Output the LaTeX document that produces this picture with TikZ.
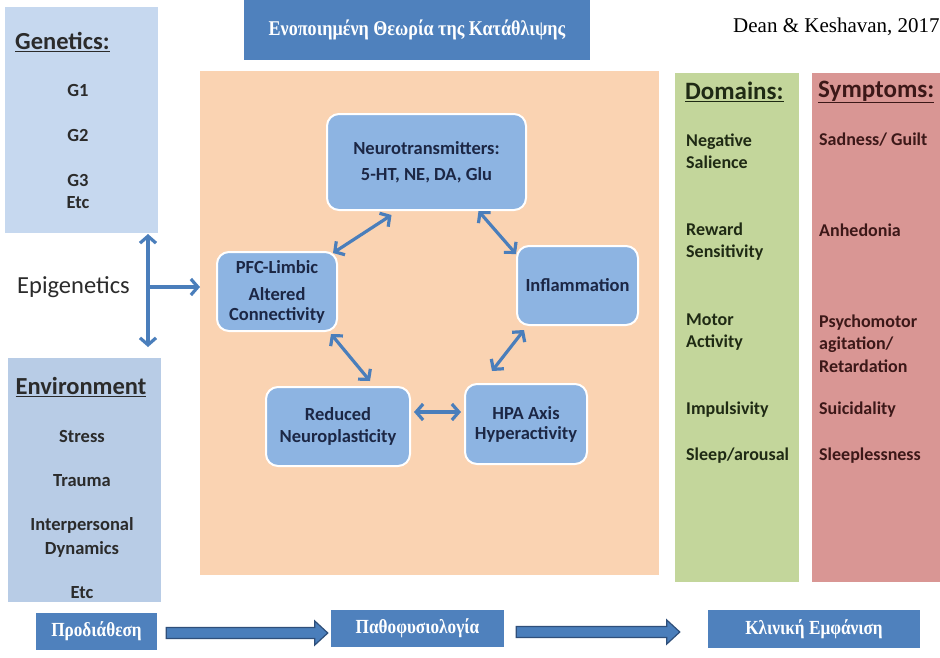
\documentclass[tikz,border=0pt]{standalone}
\usepackage{fontspec}
\setmainfont{Carlito}
\newfontfamily\grk{Liberation Serif}
\usetikzlibrary{arrows.meta,calc}
\definecolor{hdrblue}{HTML}{4F81BD}
\definecolor{genfill}{HTML}{C6D8EF}
\definecolor{envfill}{HTML}{B8CCE6}
\definecolor{corefill}{HTML}{FAD3B2}
\definecolor{boxfill}{HTML}{8DB4E2}
\definecolor{domfill}{HTML}{C3D69B}
\definecolor{symfill}{HTML}{D99694}
\definecolor{navytxt}{HTML}{1C2745}
\definecolor{greytxt}{HTML}{2B2B2B}
\definecolor{domtxt}{HTML}{1F2A14}
\definecolor{symtxt}{HTML}{3C1818}
\definecolor{arrowblue}{HTML}{4A7EBB}
\definecolor{fatedge}{HTML}{2F4F7A}
\tikzset{
  stagebox/.style={fill=hdrblue, text=white, inner sep=0pt,
    font=\grk\bfseries\fontsize{20}{22}\selectfont},
  procbox/.style={rounded corners=12pt, fill=boxfill, draw=white, line width=2pt, inner sep=0pt,
    align=center, text=navytxt, font=\bfseries\fontsize{18.5}{26}\selectfont},
  gentext/.style={text=greytxt, font=\bfseries\fontsize{18.5}{22}\selectfont, inner sep=0pt},
  headtext/.style={text=greytxt, font=\bfseries\fontsize{24.5}{26}\selectfont, inner sep=0pt},
  domtext/.style={text=domtxt, anchor=west, align=left, font=\bfseries\fontsize{18}{22}\selectfont, inner sep=0pt},
  symtext/.style={text=symtxt, anchor=west, align=left, font=\bfseries\fontsize{18}{22.5}\selectfont, inner sep=0pt},
  link/.style={draw=arrowblue, line width=3.2pt,
    {Straight Barb[length=7pt 0 0,width=16pt 0 0,line width=3.2pt]}-{Straight Barb[length=7pt 0 0,width=16pt 0 0,line width=3.2pt]}},
  onelink/.style={draw=arrowblue, line width=3.2pt,
    -{Straight Barb[length=7pt 0 0,width=16pt 0 0,line width=3.2pt]}},
  fatarrow/.style={fill=arrowblue, draw=fatedge, line width=1.2pt, line join=miter},
}
\begin{document}
\begin{tikzpicture}[x=1pt,y=-1pt]
\useasboundingbox[fill=white] (0,0) rectangle (940,657);

% left column: genetics and environment
\node[fill=genfill, minimum width=153pt, minimum height=226pt, inner sep=0pt] (gen) at (81.5,120) {};
\node[headtext, anchor=west] (genh) at (15,42) {\underline{Genetics:}};
\node[gentext] (g1) at (78,90) {G1};
\node[gentext] (g2) at (78,135) {G2};
\node[gentext] (g3) at (78,180) {G3};
\node[gentext] (g4) at (78,203) {Etc};

\node[fill=envfill, minimum width=153pt, minimum height=244pt, inner sep=0pt] (env) at (84.5,480) {};
\node[headtext] (envh) at (81,387) {\underline{Environment}};
\node[gentext] (e1) at (82,436) {Stress};
\node[gentext] (e2) at (82,481) {Trauma};
\node[gentext] (e3) at (82,525) {Interpersonal};
\node[gentext] (e4) at (82,549) {Dynamics};
\node[gentext] (e5) at (82,593) {Etc};

\node[anchor=west, text=greytxt, font=\fontsize{24.5}{26}\selectfont, inner sep=0pt] (epi) at (17,287) {Epigenetics};

% pathophysiology panel
\node[fill=corefill, minimum width=459pt, minimum height=504pt, inner sep=0pt] (core) at (429.5,323) {};
\node[procbox, minimum width=199pt, minimum height=96pt] (nt) at (426.5,162) {Neurotransmitters:\\5-HT, NE, DA, Glu};
\node[procbox, minimum width=120pt, minimum height=79pt, font=\bfseries\fontsize{18.5}{20}\selectfont] (pfc) at (277,291.5) {PFC-Limbic\\[7pt]Altered\\Connectivity};
\node[procbox, minimum width=121pt, minimum height=79pt] (inf) at (577.5,285.5) {Inflammation};
\node[procbox, minimum width=144pt, minimum height=79pt, font=\bfseries\fontsize{18.5}{22}\selectfont] (red) at (338,426.5) {Reduced\\Neuroplasticity};
\node[procbox, minimum width=122pt, minimum height=80pt, font=\bfseries\fontsize{18.5}{20}\selectfont] (hpa) at (526,424) {HPA Axis\\Hyperactivity};

\draw[link] ([xshift=-35pt,yshift=-4pt]nt.south) -- ([xshift=-5pt,yshift=-2pt]pfc.north east);
\draw[link] ([xshift=52pt,yshift=0pt]nt.south) -- ([xshift=0pt,yshift=-9pt]inf.north west);
\draw[link] ([xshift=-7pt,yshift=-2pt]pfc.south east) -- ([xshift=32pt,yshift=5pt]red.north);
\draw[link] ([xshift=8pt,yshift=-4pt]inf.south west) -- ([xshift=-34pt,yshift=12pt]hpa.north);
\draw[link] ([xshift=3pt,yshift=14.5pt]red.east) -- ([xshift=-3pt,yshift=12pt]hpa.west);

% epigenetic influences
\coordinate (vtop) at (148,234);
\coordinate (vbot) at (148,347);
\coordinate (hsrc) at (150,287);
\draw[link] (vtop) -- (vbot);
\draw[onelink] (hsrc) -- ([xshift=-16pt]pfc.west |- hsrc);

% clinical columns
\node[fill=domfill, minimum width=124pt, minimum height=509pt, inner sep=0pt] (dom) at (737,327.5) {};
\node[fill=symfill, minimum width=128pt, minimum height=509pt, inner sep=0pt] (sym) at (876,327.5) {};
\node[domtext, font=\bfseries\fontsize{25}{26}\selectfont] (domh) at (685,92) {\underline{Domains:}};
\node[domtext] (d1) at (686,151) {Negative\\Salience};
\node[domtext] (d2) at (686,241.5) {Reward\\Sensitivity};
\node[domtext] (d3) at (686,332) {Motor\\Activity};
\node[domtext] (d4) at (686,410) {Impulsivity};
\node[domtext] (d5) at (686,456) {Sleep/arousal};
\node[symtext, font=\bfseries\fontsize{25}{26}\selectfont] (symh) at (818,92) {\underline{Symptoms:}};
\node[symtext] (s1) at (819,140) {Sadness/ Guilt};
\node[symtext] (s2) at (819,230) {Anhedonia};
\node[symtext] (s3) at (819,343.5) {Psychomotor\\agitation/\\Retardation};
\node[symtext] (s4) at (819,410) {Suicidality};
\node[symtext] (s5) at (819,456) {Sleeplessness};

% title and source
\node[fill=hdrblue, minimum width=346pt, minimum height=60pt, inner sep=0pt, text=white,
  font=\grk\bfseries\fontsize{21}{23}\selectfont] (title) at (417,30)
  {\scalebox{0.86}[1]{Ενοποιημένη Θεωρία της Κατάθλιψης}};
\node[anchor=west, inner sep=0pt, font=\grk\fontsize{21}{23}\selectfont] (src) at (733,27) {Dean \& Keshavan, 2017};

% stages along the bottom
\node[stagebox, minimum width=121pt, minimum height=37pt] (p1) at (96.5,631.5) {\scalebox{0.86}[1]{Προδιάθεση}};
\node[stagebox, minimum width=173pt, minimum height=37pt] (p2) at (417.5,628.5) {\scalebox{0.86}[1]{Παθοφυσιολογία}};
\node[stagebox, minimum width=212pt, minimum height=38pt] (p3) at (814,629) {\scalebox{0.86}[1]{Κλινική Εμφάνιση}};
\coordinate (a1s) at ([xshift=9pt,yshift=-1.5pt]p1.east);
\coordinate (a1e) at ([xshift=-3pt]p2.west |- a1s);
\coordinate (a2s) at ([xshift=12pt,yshift=-3.5pt]p2.east);
\coordinate (a2e) at ([xshift=-28pt]p3.west |- a2s);
\foreach \s/\e in {a1s/a1e, a2s/a2e}{
  \draw[fatarrow] ($(\s)+(0,-5.5)$) -- ($(\e)+(-13,-5.5)$) -- ($(\e)+(-13,-12)$) -- (\e)
    -- ($(\e)+(-13,12)$) -- ($(\e)+(-13,5.5)$) -- ($(\s)+(0,5.5)$) -- cycle;
}
\end{tikzpicture}
\end{document}
